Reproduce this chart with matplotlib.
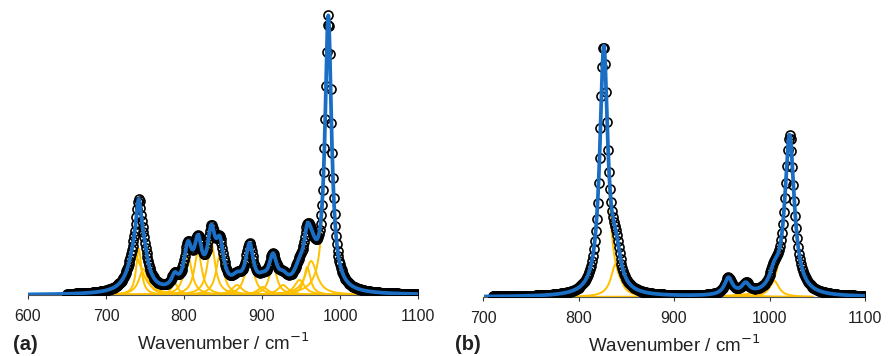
import numpy as np
import matplotlib
matplotlib.use("Agg")
import matplotlib.pyplot as plt

plt.rcParams['font.family'] = ['Liberation Sans', 'DejaVu Sans']

# fitted bands: centre / height / half width (cm-1)
a_centre = [742, 738, 748, 788, 805, 818, 835, 846, 868, 884, 901, 914, 927, 948, 958, 963, 985]
a_height = [46, 38, 26, 12, 40, 43, 52, 40, 10, 43, 8, 30, 10, 15, 28, 34, 272]
a_width = [4, 11, 7, 5, 6, 6, 6, 6, 8, 6, 8, 6, 8, 8, 5, 9, 5]

b_centre = [826.5, 839, 957, 975, 1005, 1021]
b_height = [245, 33, 17, 10, 16, 160]
b_width = [5, 6, 5, 5, 6, 6]

a_ticks = [600, 700, 800, 900, 1000, 1100]
b_ticks = [700, 800, 900, 1000, 1100]

BLUE = '#1a6fc4'
GOLD = '#ffc000'


def lorentz(x, c, h, w):
    return h / (1 + ((x - c) / w) ** 2)


def panel(ax, centre, height, width, fit_rng, data_rng, comp_rng, ticks, ytop):
    xf = np.arange(fit_rng[0], fit_rng[1] + 0.01, 0.25)
    xc = np.arange(comp_rng[0], comp_rng[1] + 0.01, 0.25)
    xd = np.arange(data_rng[0], data_rng[1] + 0.01, 1.0)
    for c, h, w in zip(centre, height, width):
        ax.plot(xc, lorentz(xc, c, h, w), color=GOLD, lw=1.4, zorder=2)
    ax.plot(xc, np.zeros_like(xc), color=GOLD, lw=1.4, zorder=2)
    yd = sum(lorentz(xd, c, h, w) for c, h, w in zip(centre, height, width))
    ax.plot(xd, yd, 'o', mfc='none', mec='black', ms=6.5, mew=1.2, zorder=3)
    yf = sum(lorentz(xf, c, h, w) for c, h, w in zip(centre, height, width))
    ax.plot(xf, yf, color=BLUE, lw=2.7, zorder=4)

    ax.set_xlim(ticks[0], ticks[-1])
    ax.set_ylim(0, ytop)
    ax.set_xticks(ticks)
    ax.tick_params(axis='x', length=3, width=0.8, color='#333333', pad=7,
                   labelsize=11.5, labelcolor='#222222')
    ax.set_yticks([])
    for s in ['top', 'right', 'left']:
        ax.spines[s].set_visible(False)
    ax.spines['bottom'].set_color('#555555')
    ax.spines['bottom'].set_linewidth(0.8)
    ax.set_xlabel('Wavenumber / cm$^{-1}$', fontsize=13.5, color='#222222', labelpad=6)
    ax.patch.set_alpha(0)
    return ax


fig = plt.figure(figsize=(8.88, 3.56), dpi=100)
ax1 = fig.add_axes([28 / 888, 61 / 356, 390 / 888, 285 / 356])
ax2 = fig.add_axes([483 / 888, 59 / 356, 382 / 888, 290 / 356])

panel(ax1, a_centre, a_height, a_width, (600, 1100), (650, 1100), (600, 1100),
      a_ticks, 285)
panel(ax2, b_centre, b_height, b_width, (703, 1100), (710, 1100), (795, 1045),
      b_ticks, 290)

fig.text(13 / 888, 1 - 344 / 356, '(a)', fontsize=14.5, fontweight='bold',
         va='center', ha='left', color='#222222')
fig.text(455 / 888, 1 - 344 / 356, '(b)', fontsize=14.5, fontweight='bold',
         va='center', ha='left', color='#222222')

fig.savefig('out.png', dpi=100)
